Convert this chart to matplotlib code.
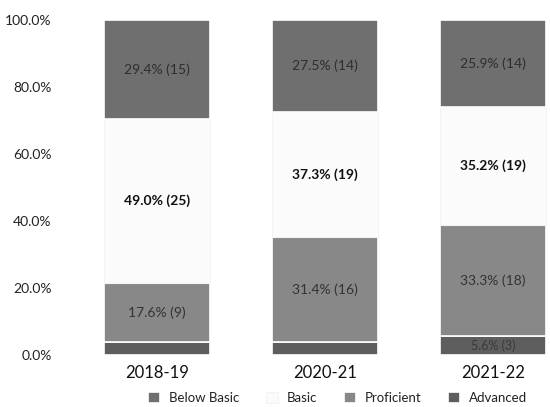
import matplotlib
matplotlib.use("Agg")
import matplotlib.pyplot as plt
import numpy as np

years = ["2018-19", "2020-21", "2021-22"]
advanced_pct = [3.9, 3.9, 5.6]
advanced_n = [2, 2, 3]
proficient_pct = [17.6, 31.4, 33.3]
proficient_n = [9, 16, 18]
basic_pct = [49.0, 37.3, 35.2]
basic_n = [25, 19, 19]
below_pct = [29.4, 27.5, 25.9]
below_n = [15, 14, 14]
yticks = [0, 20, 40, 60, 80, 100]

plt.rcParams['font.family'] = ['Lato', 'DejaVu Sans']

fig = plt.figure(figsize=(5.5, 4.07), dpi=100)
ax = fig.add_axes([60/550, 52/407, 490/550, 335/407])

x = np.arange(len(years))
w = 0.63
c_adv = "#5e5e5e"
c_prof = "#888888"
c_basic = "#fbfbfb"
c_below = "#6f6f6f"

b0 = np.zeros(3)
ax.bar(x, advanced_pct, w, bottom=b0, color=c_adv, edgecolor="white", linewidth=1.2, label="Advanced")
b1 = b0 + np.array(advanced_pct)
ax.bar(x, proficient_pct, w, bottom=b1, color=c_prof, edgecolor="white", linewidth=1.2, label="Proficient")
b2 = b1 + np.array(proficient_pct)
ax.bar(x, basic_pct, w, bottom=b2, color=c_basic, edgecolor="#f4f4f4", linewidth=0.8, label="Basic")
b3 = b2 + np.array(basic_pct)
ax.bar(x, below_pct, w, bottom=b3, color=c_below, edgecolor="white", linewidth=1.2, label="Below Basic")

for i in range(3):
    if advanced_pct[i] >= 5:
        ax.text(x[i], b0[i] + advanced_pct[i]/2, f"{advanced_pct[i]:.1f}% ({advanced_n[i]})",
                ha="center", va="center", fontsize=9, color="#3a3a3a")
    ax.text(x[i], b1[i] + proficient_pct[i]/2, f"{proficient_pct[i]:.1f}% ({proficient_n[i]})",
            ha="center", va="center", fontsize=10, color="#333333")
    ax.text(x[i], b2[i] + basic_pct[i]/2, f"{basic_pct[i]:.1f}% ({basic_n[i]})",
            ha="center", va="center", fontsize=10, color="#111111", fontweight="bold")
    ax.text(x[i], b3[i] + below_pct[i]/2, f"{below_pct[i]:.1f}% ({below_n[i]})",
            ha="center", va="center", fontsize=10, color="#2e2e2e")

ax.set_xlim(-0.577, 2.339)
ax.set_ylim(0, 100)
ax.set_yticks(yticks)
ax.set_yticklabels([f"{v:.1f}%" for v in yticks], fontsize=10, color="#222222")
ax.set_xticks(x)
ax.set_xticklabels(years, fontsize=12, color="#111111")
ax.tick_params(length=0)
ax.tick_params(axis="x", pad=7)
ax.tick_params(axis="y", pad=6)
for s in ax.spines.values():
    s.set_visible(False)

handles, labels = ax.get_legend_handles_labels()
order = [3, 2, 1, 0]
leg = fig.legend([handles[i] for i in order], [labels[i] for i in order],
                 loc="lower center", bbox_to_anchor=(0.614, -0.022), ncol=4, frameon=False,
                 fontsize=9.5, handlelength=0.9, handleheight=0.9, columnspacing=2.0,
                 handletextpad=0.7)
for t in leg.get_texts():
    t.set_color("#222222")

fig.savefig("out.png", dpi=100)
